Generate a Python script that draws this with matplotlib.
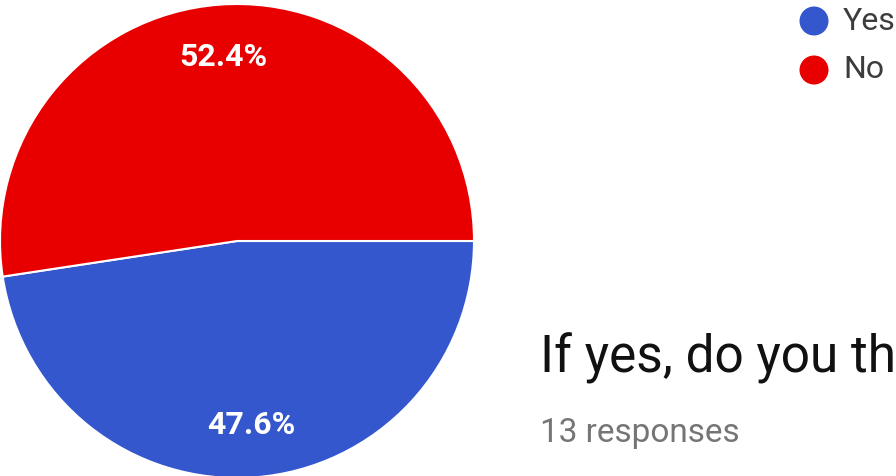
import matplotlib
matplotlib.use("Agg")
import matplotlib.pyplot as plt
from matplotlib.patches import Circle

categories = ["Yes", "No"]
values = [47.6, 52.4]
colors = ["#3557CE", "#E80000"]
title = "If yes, do you th"
subtitle = "13 responses"

W, H = 896, 476
fig = plt.figure(figsize=(W / 100, H / 100), dpi=100)
fig.patch.set_facecolor("white")

# pie axes: center (237, 241) px from top-left, radius 237 px
cx, cy, r = 237, 241, 237
ax = fig.add_axes([(cx - r) / W, (H - cy - r) / H, 2 * r / W, 2 * r / H])
wedges, texts, autotexts = ax.pie(
    values, colors=colors, startangle=0, counterclock=False,
    autopct="%.1f%%", pctdistance=0.78, radius=1.0,
    wedgeprops=dict(edgecolor="white", linewidth=1.5),
    textprops=dict(color="white", fontsize=23, fontweight="bold", family="Roboto"),
)
ax.set_xlim(-1, 1)
ax.set_ylim(-1, 1)
ax.set_aspect("auto")
ax.axis("off")

# legend
leg_y = [21, 70]
for lab, col, y in zip(categories, colors, leg_y):
    fig.add_artist(Circle((814 / 100, (H - y) / 100), 0.145,
                          transform=fig.dpi_scale_trans, facecolor=col, edgecolor="none"))
    fig.text(843 / W, 1 - (y + 8.5) / H, lab, fontsize=23, color="#3c3c3c",
             family="Roboto", va="baseline", ha="left")

fig.text(540 / W, 1 - 372 / H, title, fontsize=37, color="#111111",
         family="Roboto", va="baseline", ha="left")
fig.text(540 / W, 1 - 442 / H, subtitle, fontsize=24, color="#757575",
         family="Roboto", va="baseline", ha="left")

fig.savefig("out.png", dpi=100, facecolor="white")
